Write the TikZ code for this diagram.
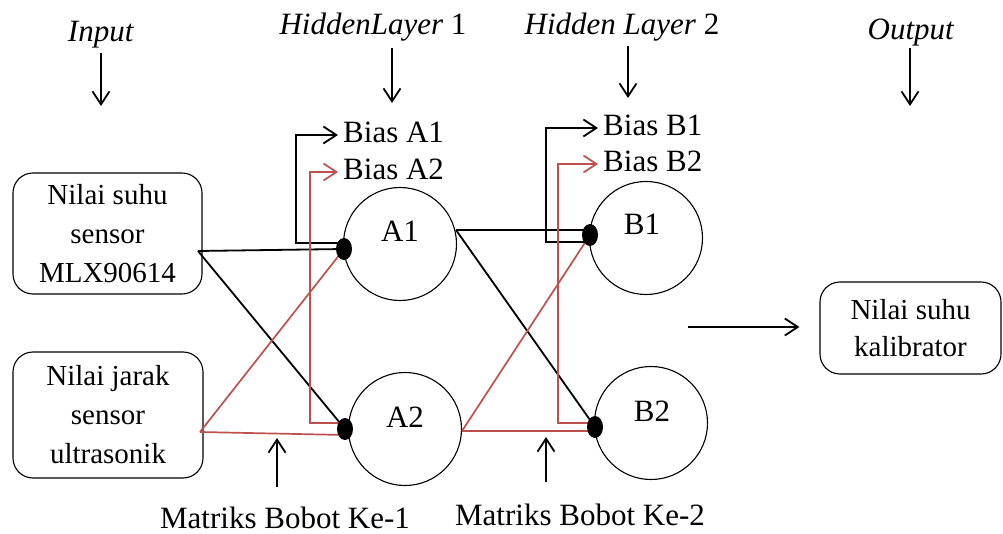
\documentclass[tikz,border=0pt]{standalone}
\usepackage{fontspec}
\setmainfont{Liberation Serif}
\usetikzlibrary{arrows.meta,shapes.geometric}
\definecolor{wred}{RGB}{192,80,77}
\begin{document}
\begin{tikzpicture}[x=1pt,y=-1pt,
  >={Straight Barb[length=13pt,width=17pt]},
  box/.style={draw,rounded corners=20pt,line width=1.1pt,align=center,inner sep=0pt,
    font=\fontsize{29}{39}\selectfont},
  neuron/.style={draw,circle,line width=1.1pt,minimum size=113pt,inner sep=0pt},
  dot/.style={ellipse,fill=black,minimum width=16pt,minimum height=22pt,inner sep=0pt},
  lbl/.style={anchor=base,inner sep=0pt,font=\fontsize{31}{36}\selectfont},
  biaslbl/.style={anchor=base west,inner xsep=5pt,inner ysep=0pt,text height=16pt,
    text depth=0pt,font=\fontsize{31}{36}\selectfont},
  conn/.style={line width=1.8pt},
  redconn/.style={line width=1.7pt,draw=wred},
]
\useasboundingbox (0,0) rectangle (1003,534);

% layer titles
\node[lbl] (tIn)  at (101,42) {\textit{Input}};
\node[lbl] (tH1)  at (373,35) {\textit{HiddenLayer} 1};
\node[lbl] (tH2)  at (622,35) {\textit{Hidden Layer} 2};
\node[lbl] (tOut) at (911,40) {\textit{Output}};
\coordinate (aIn)  at (101,106);
\coordinate (aH1)  at (392,103);
\coordinate (aH2)  at (628,98);
\coordinate (aOut) at (910,106);
\draw[conn,->,shorten <=4pt] (tIn.south -| aIn) -- (aIn);
\draw[conn,->,shorten <=6pt] (tH1.south -| aH1) -- (aH1);
\draw[conn,->,shorten <=4pt] (tH2.south -| aH2) -- (aH2);
\draw[conn,->,shorten <=1pt] (tOut.south -| aOut) -- (aOut);

% weight matrix labels
\node[lbl] (m1) at (285,528) {Matriks Bobot Ke-1};
\node[lbl] (m2) at (580,525) {Matriks Bobot Ke-2};
\coordinate (am1) at (277,438);
\coordinate (am2) at (546,437);
\draw[conn,->,shorten <=19pt] (m1.north -| am1) -- (am1);
\draw[conn,->,shorten <=21pt] (m2.north -| am2) -- (am2);

% input and output boxes
\node[box,minimum width=189pt,minimum height=121pt] (in1) at (107.5,233.5)
  {Nilai suhu\\sensor\\MLX90614};
\node[box,minimum width=190pt,minimum height=126pt] (in2) at (108,415)
  {Nilai jarak\\sensor\\ultrasonik};
\node[box,minimum width=181pt,minimum height=92pt,font=\fontsize{29}{37}\selectfont]
  (out) at (910.5,328) {Nilai suhu\\kalibrator};

% neurons
\node[neuron] (A1) at (400,244) {};
\node[neuron] (A2) at (405,429) {};
\node[neuron] (B1) at (646,238) {};
\node[neuron] (B2) at (651,423) {};
\node[lbl] (lA1) at (400,242) {A1};
\node[lbl] (lA2) at (405,427) {A2};
\node[lbl] (lB1) at (642,235) {B1};
\node[lbl] (lB2) at (652,421) {B2};

% bias labels
\node[biaslbl] (bA1) at (338,143) {Bias A1};
\node[biaslbl] (bA2) at (338,180) {Bias A2};
\node[biaslbl] (bB1) at (598,136) {Bias B1};
\node[biaslbl] (bB2) at (598,172) {Bias B2};

% junction points on the neurons
\coordinate (pA1) at (344,249);
\coordinate (pA2) at (345,429);
\coordinate (pB1) at (590,235);
\coordinate (pB2) at (595,427);
\coordinate (s1) at (198,251);
\coordinate (s2) at (200,432);
\coordinate (r1) at (456,230);
\coordinate (r2) at (462,431);

% weights, first layer
\draw[conn] (s1) -- (pA1);
\draw[conn] (s1) -- (pA2);
\draw[redconn] (s2) -- (pA1);
\draw[redconn] (s2) -- (pA2 |- 0,435);
% weights, second layer
\draw[conn] (r1) -- (pB1 |- 0,230);
\draw[conn] (r1) -- (pB2);
\draw[redconn] (r2) -- (pB1);
\draw[redconn] (r2) -- (pB2 |- 0,431);

% bias feedback lines
\coordinate (kA1) at (296,243);
\coordinate (kA2) at (310,423);
\coordinate (kB1) at (546,242);
\coordinate (kB2) at (558,423);
\draw[conn,->] (pA1 |- kA1) -- (kA1) |- (bA1.west);
\draw[redconn,->] (pA2 |- kA2) -- (kA2) |- (bA2.west);
\draw[conn,->] (pB1 |- kB1) -- (kB1) |- (bB1.west);
\draw[redconn,->] (pB2 |- kB2) -- (kB2) |- (bB2.west);

% junction dots
\node[dot] (dA1) at (pA1) {};
\node[dot] (dA2) at (pA2) {};
\node[dot] (dB1) at (pB1) {};
\node[dot] (dB2) at (pB2) {};

% output arrow
\coordinate (o0) at (688,327);
\draw[conn,->,shorten >=20pt] (o0) -- (out.west |- o0);
\end{tikzpicture}
\end{document}
